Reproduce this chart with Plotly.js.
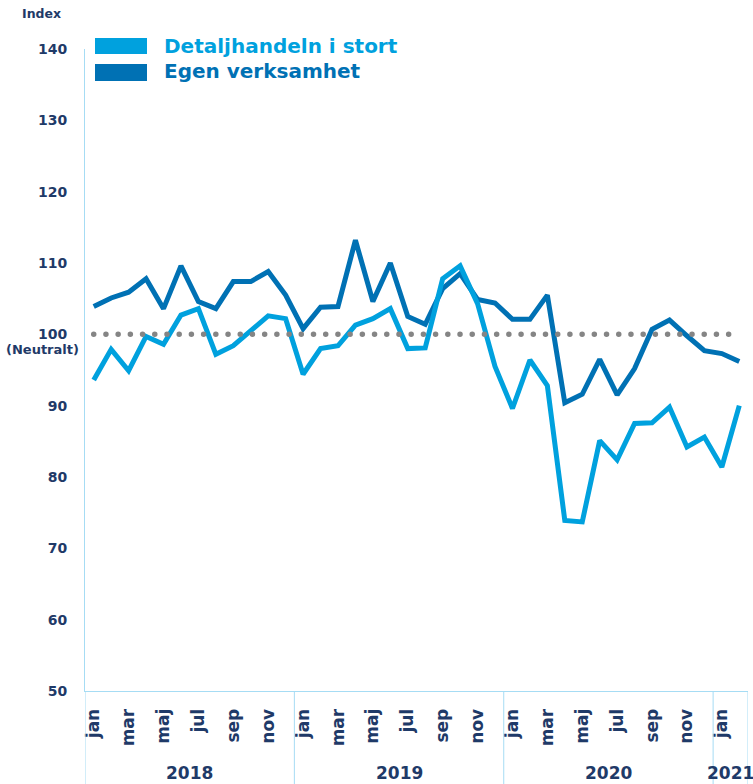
<!DOCTYPE html>
<html>
<head>
<meta charset="utf-8">
<script src="https://cdn.plot.ly/plotly-3.0.1.min.js"></script>
<style>
html,body{margin:0;padding:0;background:#fff}
#chart{width:753px;height:784px}
.scatterlayer .trace:nth-child(3) .js-line{stroke-linecap:round}
</style>
</head>
<body>
<div id="chart"></div>
<script>
// Month categories (jan 2018 – feb 2021)
const months = ['jan','feb','mar','apr','maj','jun','jul','aug','sep','okt','nov','dec',
                'jan','feb','mar','apr','maj','jun','jul','aug','sep','okt','nov','dec',
                'jan','feb','mar','apr','maj','jun','jul','aug','sep','okt','nov','dec',
                'jan','feb'];
const years = ['2018','2018','2018','2018','2018','2018','2018','2018','2018','2018','2018','2018',
               '2019','2019','2019','2019','2019','2019','2019','2019','2019','2019','2019','2019',
               '2020','2020','2020','2020','2020','2020','2020','2020','2020','2020','2020','2020',
               '2021','2021'];
const seriesNames = ['Detaljhandeln i stort', 'Egen verksamhet'];
const detaljhandeln = [93.6, 97.9, 94.9, 99.7, 98.6, 102.7, 103.6, 97.2, 98.4, 100.6, 102.6, 102.2,
                       94.4, 98.0, 98.4, 101.3, 102.2, 103.6, 98.0, 98.1, 107.8, 109.6, 104.3, 95.5,
                       89.6, 96.4, 92.8, 73.9, 73.7, 85.1, 82.4, 87.5, 87.6, 89.8, 84.2, 85.6,
                       81.4, 90.0];
const egenVerksamhet = [103.9, 105.1, 105.9, 107.8, 103.6, 109.6, 104.6, 103.6, 107.4, 107.4, 108.8, 105.5,
                        100.8, 103.8, 103.9, 113.2, 104.6, 110.0, 102.5, 101.4, 106.4, 108.5, 104.9, 104.4,
                        102.1, 102.1, 105.5, 90.4, 91.6, 96.5, 91.5, 95.2, 100.7, 102.0, 99.8, 97.7,
                        97.3, 96.2];
const neutralValue = 100;
const yTicks = [50, 60, 70, 80, 90, 100, 110, 120, 130, 140];

const navy = '#1f3a68';
const light = '#00a1de';
const dark = '#0071b4';
const axisBlue = '#a6dcf4';
const FONT = 'DejaVu Sans';

const xIdx = months.map((m, i) => i);
const tickIdx = xIdx.filter(i => i % 2 === 0);

const traces = [
  {x: xIdx, y: egenVerksamhet, type: 'scatter', mode: 'lines', name: seriesNames[1],
   line: {color: dark, width: 5}, showlegend: false, hoverinfo: 'skip'},
  {x: xIdx, y: detaljhandeln, type: 'scatter', mode: 'lines', name: seriesNames[0],
   line: {color: light, width: 5}, showlegend: false, hoverinfo: 'skip'},
  {x: xIdx, y: xIdx.map(() => neutralValue), type: 'scatter', mode: 'lines', name: 'Neutralt',
   line: {color: '#858585', width: 5.5, dash: '0.01px,12.2px'}, showlegend: false, hoverinfo: 'skip'}
];

// year groups
const yearGroups = [];
years.forEach((y, i) => {
  let g = yearGroups.find(o => o.year === y);
  if (!g) { g = {year: y, first: i, last: i}; yearGroups.push(g); }
  g.last = i;
});

const shapes = [];
const annotations = [];
const sepBottom = -93 / 642;
yearGroups.forEach(g => {
  shapes.push({type: 'line', xref: 'x', yref: 'paper', x0: g.first - 0.5, x1: g.first - 0.5,
               y0: 0, y1: sepBottom, line: {color: axisBlue, width: 1}});
  annotations.push({xref: 'x', yref: 'paper', x: (g.first + g.last) / 2, y: (691 - 773) / 642,
                    text: g.year, showarrow: false, xanchor: 'center', yanchor: 'middle',
                    font: {family: FONT, size: 17, color: navy, weight: 'bold'}});
});
const lastG = yearGroups[yearGroups.length - 1];
shapes.push({type: 'line', xref: 'x', yref: 'paper', x0: lastG.last + 0.5, x1: lastG.last + 0.5,
             y0: 0, y1: sepBottom, line: {color: axisBlue, width: 1}});

// legend boxes
const px = v => (v - 85) / 663;
const py = v => (691 - v) / 642;
shapes.push({type: 'rect', xref: 'paper', yref: 'paper', x0: px(95), x1: px(147), y0: py(54), y1: py(38),
             fillcolor: light, line: {width: 0}});
shapes.push({type: 'rect', xref: 'paper', yref: 'paper', x0: px(95), x1: px(147), y0: py(81), y1: py(64),
             fillcolor: dark, line: {width: 0}});
annotations.push({xref: 'paper', yref: 'paper', x: px(162), y: py(46), text: seriesNames[0],
                  showarrow: false, xanchor: 'left', yanchor: 'middle',
                  font: {family: FONT, size: 20, color: light, weight: 'bold'}});
annotations.push({xref: 'paper', yref: 'paper', x: px(162), y: py(71), text: seriesNames[1],
                  showarrow: false, xanchor: 'left', yanchor: 'middle',
                  font: {family: FONT, size: 20, color: dark, weight: 'bold'}});
annotations.push({xref: 'paper', yref: 'paper', x: px(42), y: py(14), text: 'Index',
                  showarrow: false, xanchor: 'center', yanchor: 'middle',
                  font: {family: FONT, size: 12.5, color: navy, weight: 'bold'}});
annotations.push({xref: 'paper', yref: 'y', x: px(81), y: neutralValue, yshift: -6, text: '(Neutralt)',
                  showarrow: false, xanchor: 'right', yanchor: 'top',
                  font: {family: FONT, size: 13, color: navy, weight: 'bold'}});

const layout = {
  width: 753, height: 784,
  margin: {l: 85, r: 5, t: 49, b: 93},
  paper_bgcolor: '#ffffff', plot_bgcolor: '#ffffff',
  showlegend: false,
  xaxis: {
    type: 'linear', range: [-0.5, months.length - 0.5],
    tickmode: 'array', tickvals: tickIdx, ticktext: tickIdx.map(i => months[i]),
    tickangle: -90, ticks: '', ticklabelstandoff: 10,
    showgrid: false, zeroline: false, showline: true, linecolor: axisBlue, linewidth: 1,
    tickfont: {family: FONT, size: 17, color: navy, weight: 'bold'}, fixedrange: true
  },
  yaxis: {
    range: [50, 140], tickmode: 'array', tickvals: yTicks, ticktext: yTicks.map(String),
    ticks: '', ticklabelstandoff: 14,
    showgrid: false, zeroline: false, showline: true, linecolor: axisBlue, linewidth: 1,
    tickfont: {family: FONT, size: 14, color: navy, weight: 'bold'}, fixedrange: true
  },
  shapes: shapes,
  annotations: annotations
};

Plotly.newPlot('chart', traces, layout, {displayModeBar: false, staticPlot: true});
</script>
</body>
</html>
